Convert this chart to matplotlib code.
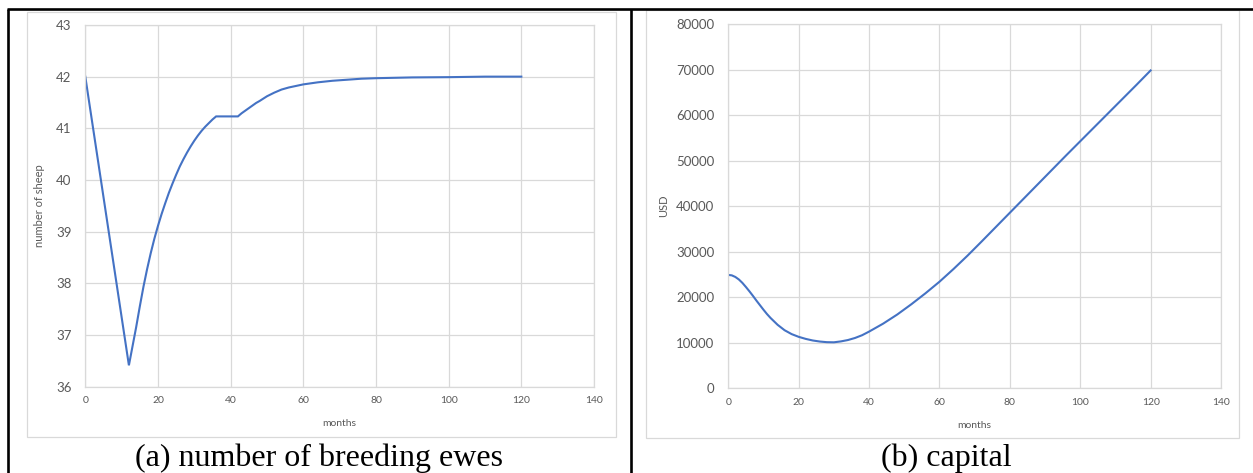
import matplotlib
matplotlib.use("Agg")
import matplotlib.pyplot as plt
from matplotlib.lines import Line2D
from matplotlib.patches import Rectangle

# ---- data -------------------------------------------------------------
ewe_months = [0, 12, 13, 14, 15, 16, 17, 18, 19, 20, 21, 22, 23, 24, 25, 26,
              27, 28, 29, 30, 31, 32, 33, 34, 35, 36, 42, 43, 44, 45, 46, 47,
              48, 50, 52, 54, 56, 58, 60, 64, 68, 72, 76, 80, 90, 100, 110, 120]
ewes = [42.00, 36.41, 36.78, 37.15, 37.55, 37.93, 38.27, 38.58, 38.86, 39.11,
        39.34, 39.55, 39.75, 39.93, 40.10, 40.26, 40.40, 40.53, 40.65, 40.76,
        40.86, 40.95, 41.03, 41.10, 41.17, 41.23, 41.23, 41.29, 41.34, 41.39,
        41.44, 41.49, 41.53, 41.62, 41.69, 41.75, 41.79, 41.82, 41.85, 41.89,
        41.92, 41.94, 41.96, 41.97, 41.985, 41.99, 42.00, 42.00]

capital_months = [0, 1, 2, 3, 4, 5, 6, 7, 8, 9, 10, 11, 12, 14, 16, 18, 20, 22,
                  24, 26, 28, 30, 32, 34, 36, 38, 40, 44, 48, 52, 56, 60, 64,
                  68, 72, 76, 80, 84, 88, 92, 96, 100, 104, 108, 112, 116, 120]
capital = [24900, 24800, 24450, 23900, 23150, 22250, 21300, 20300, 19250, 18250,
           17250, 16300, 15450, 13950, 12750, 11900, 11300, 10850, 10500, 10270,
           10130, 10100, 10300, 10600, 11050, 11650, 12450, 14200, 16200, 18450,
           20850, 23400, 26200, 29150, 32250, 35400, 38550, 41700, 44850, 48000,
           51150, 54250, 57350, 60450, 63550, 66650, 69800]

ewe_yticks = [36, 37, 38, 39, 40, 41, 42, 43]
capital_yticks = [0, 10000, 20000, 30000, 40000, 50000, 60000, 70000, 80000]
month_ticks = [0, 20, 40, 60, 80, 100, 120, 140]

captions = ["(a) number of breeding ewes", "(b) capital"]

# ---- layout -----------------------------------------------------------
W, H = 1253, 473
fig = plt.figure(figsize=(W / 100, H / 100), dpi=100)
fig.patch.set_facecolor("white")

def fx(x):
    return x / W

def fy(y):
    return 1 - y / H

def axes_px(left, top, right, bottom):
    return fig.add_axes([fx(left), fy(bottom), (right - left) / W, (bottom - top) / H])

GRID = "#d9d9d9"
TICK = "#595959"
LINE = "#4472c4"
SANS = ["Lato", "DejaVu Sans"]
SERIF = ["Liberation Serif", "DejaVu Serif"]

# table rules
for (x0, y0, x1, y1) in [(7, 8.7, W, 8.7), (8, 8.7, 8, H), (631.3, 8.7, 631.3, H)]:
    fig.add_artist(Line2D([fx(x0), fx(x1)], [fy(y0), fy(y1)], color="black",
                          lw=1.9, solid_capstyle="butt", transform=fig.transFigure))

# chart-area frames
for (x0, y0, x1, y1) in [(27, 12, 616, 437), (646, 10, 1239, 438)]:
    fig.add_artist(Rectangle((fx(x0), fy(y1)), (x1 - x0) / W, (y1 - y0) / H,
                             fill=False, edgecolor=GRID, lw=0.9,
                             transform=fig.transFigure))


def style(ax, xlim, ylim, yticks, ylabel, ylabel_x):
    ax.set_xlim(*xlim)
    ax.set_ylim(*ylim)
    ax.set_xticks(month_ticks)
    ax.set_yticks(yticks)
    ax.grid(True, color=GRID, lw=0.9)
    ax.set_axisbelow(True)
    for s in ax.spines.values():
        s.set_color(GRID)
        s.set_linewidth(0.9)
    ax.tick_params(axis="both", length=0, colors=TICK)
    ax.tick_params(axis="x", pad=7, labelsize=7.5)
    ax.tick_params(axis="y", pad=10, labelsize=9.5)
    for lab in ax.get_xticklabels() + ax.get_yticklabels():
        lab.set_fontfamily(SANS)
    ax.set_xlabel("months", fontsize=7.5, color=TICK, family=SANS)
    ax.set_ylabel(ylabel, fontsize=8, color=TICK, family=SANS)
    ax.yaxis.set_label_coords(ylabel_x, 0.5)


ax1 = axes_px(85.3, 25, 594, 386.5)
ax1.plot(ewe_months, ewes, color=LINE, lw=1.5, solid_joinstyle="miter")
style(ax1, (0, 140), (36, 43), ewe_yticks, "number of sheep", (45 - 85.3) / (594 - 85.3))
ax1.xaxis.set_label_coords(0.5, -(419 - 386.5) / (386.5 - 25))

ax2 = axes_px(728.3, 24, 1221, 388.3)
ax2.plot(capital_months, capital, color=LINE, lw=1.5)
style(ax2, (0, 140), (0, 80000), capital_yticks, "USD", (669 - 728.3) / (1221 - 728.3))
ax2.xaxis.set_label_coords(0.5, -(421 - 388.3) / (388.3 - 24))

# captions under each panel
fig.text(fx(319), fy(458), captions[0], ha="center", va="center",
         fontsize=23, family=SERIF, color="black")
fig.text(fx(946), fy(458), captions[1], ha="center", va="center",
         fontsize=23, family=SERIF, color="black")

fig.savefig("out.png", dpi=100, facecolor="white")
